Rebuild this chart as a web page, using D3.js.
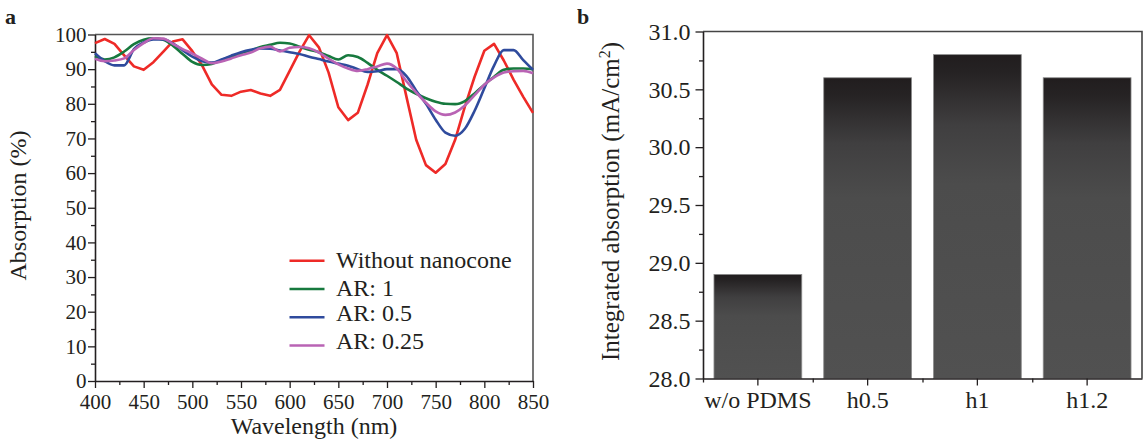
<!DOCTYPE html>
<html>
<head>
<meta charset="utf-8">
<script src="https://cdn.jsdelivr.net/npm/d3@7/dist/d3.min.js"></script>
<style>
  body { margin: 0; background: #fff; }
  text { font-family: "Liberation Serif", "Times New Roman", serif; fill: #231f20; }
</style>
</head>
<body>
<div class="canvas"></div>
<script>
// ---- panel a data ----
const wavelengths = [400, 410, 420, 430, 440, 450, 460, 470, 480, 490, 500, 510, 520, 530, 540, 550,
  560, 570, 580, 590, 600, 610, 620, 630, 640, 650, 660, 670, 680, 690, 700, 710, 720, 730, 740,
  750, 760, 770, 780, 790, 800, 810, 820, 830, 840, 850];
const noCone = [97.5, 98.7, 97.3, 94, 90.8, 89.8, 92, 95, 98, 98.6, 95.2, 91.1, 85.6, 82.6, 82.3, 83.5,
  84, 83, 82.3, 84, 89.5, 95, 99.8, 96.3, 89, 79, 75.3, 77.4, 85.5, 94.6, 99.8, 94.6, 82, 69.6, 62.3,
  60.1, 62.6, 69.6, 79.2, 87.8, 95.3, 97.3, 92.5, 87, 82, 77.4];
const ar1 = [93.8, 92.8, 93.4, 95.1, 97.2, 98.5, 98.9, 98.5, 96.8, 94.4, 92.1, 91.2, 91.5, 92.6, 93.6, 94.6,
  95.4, 96.4, 97, 97.6, 97.4, 96.5, 95.6, 94.9, 93.8, 92.8, 94, 93.5, 91.8, 89.8, 88.1, 86.3, 84.4, 82.9, 81.6,
  80.6, 80, 79.9, 80.8, 83, 85.5, 87.8, 89.8, 90.2, 90.2, 90];
const ar05 = [94.6, 92.3, 91.1, 91.1, 95.8, 97.7, 98.6, 98.6, 97.4, 95.5, 93.6, 92.3, 91.9, 92.8, 93.9, 94.9,
  95.6, 96, 95.9, 95.4, 94.9, 94.4, 93.6, 92.9, 92.2, 91.6, 91, 90, 89.2, 89.4, 90, 90, 88, 83.8, 80,
  75.4, 71.7, 70.8, 72.8, 78, 84.5, 91, 95.5, 95.5, 92.6, 89.8];
const ar025 = [93, 92.3, 92.5, 93.1, 95.5, 97.5, 98.9, 98.8, 97.3, 95.8, 94.5, 93, 91.7, 92.2, 93.1, 94,
  94.8, 96, 96.5, 95.1, 96.2, 96.4, 96, 94.8, 93, 91.4, 90.2, 89.5, 90, 90.8, 91.6, 90.2, 86.5, 83.2, 80.3,
  77.8, 76.8, 77.5, 79.5, 82.5, 85.5, 87.6, 89, 89.4, 89.5, 88.8];
const seriesNames = ['Without nanocone', 'AR: 1', 'AR: 0.5', 'AR: 0.25'];
const xTicksA = [400, 450, 500, 550, 600, 650, 700, 750, 800, 850];
const yTicksA = [0, 10, 20, 30, 40, 50, 60, 70, 80, 90, 100];

// ---- panel b data ----
const samples = ['w/o PDMS', 'h0.5', 'h1', 'h1.2'];
const integrated = [28.9, 30.6, 30.8, 30.6];
const yTicksB = [28.0, 28.5, 29.0, 29.5, 30.0, 30.5, 31.0];

const colors = ['#ee2a27', '#17793e', '#2f4b9d', '#b963b4'];
const ink = '#231f20';

const svg = d3.select('.canvas').append('svg')
  .attr('width', 1145)
  .attr('height', 442);

// ================= panel a =================
const a = { left: 95, right: 533, top: 34.5, bottom: 381 };

const x = d3.scaleLinear().domain([400, 850]).range([a.left, a.right]);
const y = d3.scaleLinear().domain([0, 100]).range([a.bottom, a.top]);

const gA = svg.append('g');

// frame (top + right)
gA.append('path')
  .attr('d', `M${a.left},${a.top}H${a.right}V${a.bottom}`)
  .attr('fill', 'none').attr('stroke', '#555').attr('stroke-width', 1.6);

// minor ticks
gA.append('g').attr('transform', `translate(0,${a.bottom})`)
  .call(d3.axisBottom(x).tickValues(xTicksA.slice(0, -1).map(v => v + 25)).tickSize(4).tickFormat(''))
  .call(g => g.select('.domain').remove());
gA.append('g').attr('transform', `translate(${a.left},0)`)
  .call(d3.axisLeft(y).tickValues(yTicksA.slice(0, -1).map(v => v + 5)).tickSize(4).tickFormat(''))
  .call(g => g.select('.domain').remove());

const xAxisA = gA.append('g').attr('transform', `translate(0,${a.bottom})`)
  .call(d3.axisBottom(x).tickValues(xTicksA).tickSize(7).tickPadding(6).tickSizeOuter(0));
const yAxisA = gA.append('g').attr('transform', `translate(${a.left},0)`)
  .call(d3.axisLeft(y).tickValues(yTicksA).tickSize(7).tickPadding(1.5).tickSizeOuter(0));

[xAxisA, yAxisA].forEach(ax => {
  ax.selectAll('text').style('font-size', '21px').attr('fill', ink);
});

// lines
const lineStraight = d3.line().x((d, i) => x(wavelengths[i])).y(d => y(d));
const lineSmooth = d3.line().x((d, i) => x(wavelengths[i])).y(d => y(d)).curve(d3.curveMonotoneX);

const allSeries = [noCone, ar1, ar05, ar025];
gA.append('g').selectAll('path')
  .data(allSeries)
  .enter().append('path')
  .attr('d', (d, i) => i === 0 ? lineStraight(d) : lineSmooth(d))
  .attr('fill', 'none')
  .attr('stroke', (d, i) => colors[i])
  .attr('stroke-width', 2.6)
  .attr('stroke-linejoin', 'round');

// axis styling
gA.selectAll('.domain').attr('stroke', ink).attr('stroke-width', 1.6);
gA.selectAll('.tick line').attr('stroke', ink).attr('stroke-width', 1.3);

// legend
const legendRowY = [260.7, 289, 317.3, 345.5];
const legendTextY = [267.7, 295.7, 320.5, 348.5];
const legend = gA.append('g');
seriesNames.forEach((name, i) => {
  legend.append('line')
    .attr('x1', 289.5).attr('x2', 324.5).attr('y1', legendRowY[i]).attr('y2', legendRowY[i])
    .attr('stroke', colors[i]).attr('stroke-width', 2.4);
  legend.append('text')
    .attr('x', 336).attr('y', legendTextY[i])
    .style('font-size', '24px')
    .text(name);
});

gA.append('text')
  .attr('x', (a.left + a.right) / 2).attr('y', 434)
  .attr('text-anchor', 'middle').style('font-size', '24px')
  .text('Wavelength (nm)');
gA.append('text')
  .attr('transform', 'translate(26,205.5) rotate(-90)')
  .attr('text-anchor', 'middle').style('font-size', '24px')
  .text('Absorption (%)');
gA.append('text')
  .attr('x', 5).attr('y', 24)
  .style('font-size', '22px').style('font-weight', 'bold')
  .text('a');

// ================= panel b =================
const b = { left: 703, right: 1142, top: 31.5, bottom: 378.5 };

const xb = d3.scaleBand().domain(samples).range([b.left, b.right])
  .paddingInner(0.2).paddingOuter(0.1);
const yb = d3.scaleLinear().domain([28, 31]).range([b.bottom, b.top]);

const gB = svg.append('g');

const grad = svg.append('defs').append('linearGradient')
  .attr('id', 'barGrad').attr('x1', 0).attr('y1', 0).attr('x2', 0).attr('y2', 1);
grad.append('stop').attr('offset', '0%').attr('stop-color', '#211d1e');
grad.append('stop').attr('offset', '6%').attr('stop-color', '#262324');
grad.append('stop').attr('offset', '22%').attr('stop-color', '#403f40');
grad.append('stop').attr('offset', '40%').attr('stop-color', '#4c4c4c');
grad.append('stop').attr('offset', '100%').attr('stop-color', '#515151');

gB.append('path')
  .attr('d', `M${b.left},${b.top}H${b.right}V${b.bottom}`)
  .attr('fill', 'none').attr('stroke', '#444').attr('stroke-width', 1.6);

gB.selectAll('rect')
  .data(integrated)
  .enter().append('rect')
  .attr('x', (d, i) => xb(samples[i]))
  .attr('y', d => yb(d))
  .attr('width', xb.bandwidth())
  .attr('height', d => b.bottom - yb(d))
  .attr('fill', 'url(#barGrad)')
  .attr('stroke', '#8c8c8c')
  .attr('stroke-width', 0.8);

// minor ticks: band edges and quarter steps
const step = xb.step();
const edges = samples.map((s, i) => b.left + i * step);
gB.append('g').attr('transform', `translate(0,${b.bottom})`)
  .call(d3.axisBottom(d3.scaleIdentity()).tickValues(edges).tickSize(4).tickFormat(''))
  .call(g => g.select('.domain').remove());
gB.append('g').attr('transform', `translate(${b.left},0)`)
  .call(d3.axisLeft(yb).tickValues(yTicksB.slice(0, -1).map(v => v + 0.25)).tickSize(4).tickFormat(''))
  .call(g => g.select('.domain').remove());

const xAxisB = gB.append('g').attr('transform', `translate(0,${b.bottom})`)
  .call(d3.axisBottom(xb).tickSize(7).tickPadding(5).tickSizeOuter(0));
const yAxisB = gB.append('g').attr('transform', `translate(${b.left},0)`)
  .call(d3.axisLeft(yb).tickValues(yTicksB).tickFormat(d3.format('.1f')).tickSize(7.5).tickPadding(5).tickSizeOuter(0));

[xAxisB, yAxisB].forEach(ax => {
  ax.selectAll('text').style('font-size', '24px').attr('fill', ink);
});
gB.selectAll('.domain').attr('stroke', ink).attr('stroke-width', 1.6);
gB.selectAll('.tick line').attr('stroke', ink).attr('stroke-width', 1.3);

const yTitle = gB.append('text')
  .attr('transform', 'translate(619,201.5) rotate(-90)')
  .attr('text-anchor', 'middle').style('font-size', '25px');
yTitle.append('tspan').text('Integrated absorption (mA/cm');
yTitle.append('tspan').attr('dy', -9).style('font-size', '16px').text('2');
yTitle.append('tspan').attr('dy', 9).text(')');

gB.append('text')
  .attr('x', 577).attr('y', 24)
  .style('font-size', '22px').style('font-weight', 'bold')
  .text('b');
</script>
</body>
</html>
